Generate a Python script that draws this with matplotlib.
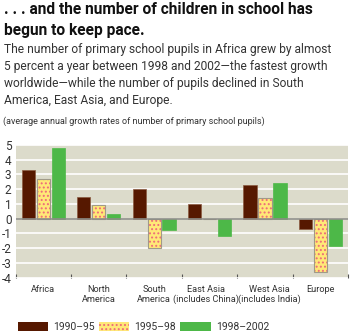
import matplotlib.pyplot as plt
import matplotlib.transforms as mtransforms
import numpy as np

regions = ["Africa", "North\nAmerica", "South\nAmerica", "East Asia\n(includes China)",
           "West Asia\n(includes India)", "Europe"]
periods = ["1990\u201395", "1995\u201398", "1998\u20132002"]
growth_1990_95 = [3.3, 1.5, 2.0, 1.0, 2.3, -0.7]
growth_1995_98 = [2.7, 0.9, -2.0, 0.0, 1.4, -3.6]
growth_1998_2002 = [4.8, 0.3, -0.75, -1.2, 2.45, -1.85]

BROWN = "#561800"
YELLOW = "#FFE877"
DOTS = "#EE6A7A"
GREEN = "#4DB848"
BG = "#DCDBCB"
TEXT = "#333333"

plt.rcParams["font.family"] = ["Roboto", "DejaVu Sans"]
plt.rcParams["hatch.linewidth"] = 0.9

W, H = 350, 333
fig = plt.figure(figsize=(W / 100, H / 100), dpi=100)
renderer = fig.canvas.get_renderer()


def fy(py):
    return 1 - py / H


def fx(px):
    return px / W


def fit(t, width_px):
    # the reference uses a condensed face; shrink the text to the same width
    wpx = t.get_window_extent(renderer).width
    t.set_fontsize(t.get_fontsize() * width_px / wpx)
    return t


t1 = fig.text(fx(4), fy(10), ". . . and the number of children in school has", fontsize=12,
              fontweight="bold", va="center", color="#111111")
fit(t1, 308)
fig.text(fx(4), fy(30), "begun to keep pace.", fontsize=t1.get_fontsize(),
         fontweight="bold", va="center", color="#111111")
body = ["The number of primary school pupils in Africa grew by almost",
        "5 percent a year between 1998 and 2002\u2014the fastest growth",
        "worldwide\u2014while the number of pupils declined in South",
        "America, East Asia, and Europe."]
b0 = fig.text(fx(4), fy(49), body[0], fontsize=10, va="center", color=TEXT)
fit(b0, 327)
for i, line in enumerate(body[1:], start=1):
    fig.text(fx(4), fy(49 + i * 17.3), line, fontsize=b0.get_fontsize(), va="center", color=TEXT)
st = fig.text(fx(3), fy(121), "(average annual growth rates of number of primary school pupils)",
              fontsize=7, va="center", color=TEXT)
fit(st, 262)

ax = fig.add_axes([fx(15.7), fy(277.7), fx(348) - fx(15.7), fy(145) - fy(277.7)])
ax.set_facecolor(BG)
for s in ax.spines.values():
    s.set_visible(False)

x = np.arange(len(regions))
w = 0.24
off = 0.27
ax.bar(x - off, growth_1990_95, w, color=BROWN, edgecolor="#8a5a40", linewidth=0.5, zorder=3)
ax.bar(x, growth_1995_98, w, color=YELLOW, edgecolor=DOTS, hatch="....", linewidth=0, zorder=3)
ax.bar(x, growth_1995_98, w, color="none", edgecolor="#a09a88", linewidth=0.8, zorder=4)
ax.bar(x + off, growth_1998_2002, w, color=GREEN, edgecolor=GREEN, linewidth=0.5, zorder=3)

ax.set_xlim(-0.5, len(regions) - 0.5)
ax.set_ylim(-4, 5)
ax.set_yticks(range(-4, 6))
ax.set_yticklabels([str(v) for v in range(-4, 6)], fontsize=8.5, color=TEXT)
ax.yaxis.grid(True, color="white", linewidth=1.2, zorder=0)
ax.set_axisbelow(True)
ax.axhline(0, color="#8c8c86", linewidth=1.2, zorder=5)
ax.tick_params(axis="y", length=0, pad=3)

ax.set_xticks(x)
labels = ax.set_xticklabels(regions, fontsize=6.6, color=TEXT, linespacing=1.15)
ax.tick_params(axis="x", length=0, pad=5)
ax.set_xticks(np.arange(len(regions) + 1) - 0.5, minor=True)
ax.tick_params(axis="x", which="minor", direction="in", length=3, color="#555555", width=0.8)

# the two long labels sit a little apart in the reference
for lab, dx in zip(labels, [0, 0, 0, -3.5, 4.5, 0]):
    if dx:
        lab.set_transform(lab.get_transform() +
                          mtransforms.ScaledTranslation(dx / 100, 0, fig.dpi_scale_trans))

handles = [plt.Rectangle((0, 0), 1, 1, facecolor=BROWN),
           plt.Rectangle((0, 0), 1, 1, facecolor=YELLOW, edgecolor=DOTS, hatch="....", linewidth=0),
           plt.Rectangle((0, 0), 1, 1, facecolor=GREEN)]
fig.legend(handles, periods, loc="center left", bbox_to_anchor=(fx(18), fy(327)), ncol=3,
           frameon=False, fontsize=7.5, handlelength=2.9, handleheight=0.9,
           handletextpad=0.5, columnspacing=0.4, borderpad=0, borderaxespad=0,
           labelcolor=TEXT)

fig.savefig("out.png", dpi=100)
